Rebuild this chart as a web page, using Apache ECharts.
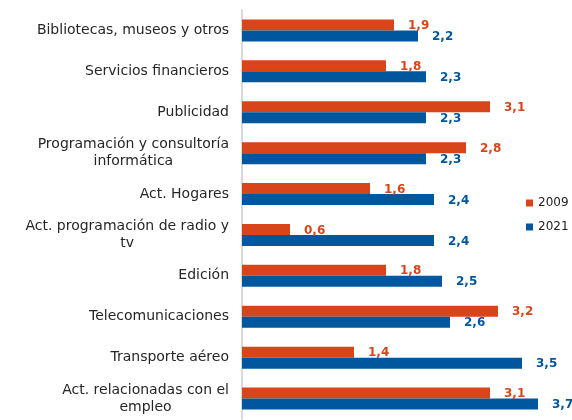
<!DOCTYPE html>
<html>
<head>
<meta charset="utf-8">
<script src="https://cdn.jsdelivr.net/npm/echarts@6/dist/echarts.min.js"></script>
<style>html,body{margin:0;padding:0;background:#fff}#c{width:572px;height:420px}</style>
</head>
<body>
<div id="c"></div>
<script>
const categories = [
  "Bibliotecas, museos y otros",
  "Servicios financieros",
  "Publicidad",
  "Programación y consultoría\ninformática",
  "Act. Hogares",
  "Act. programación de radio y\ntv",
  "Edición",
  "Telecomunicaciones",
  "Transporte aéreo",
  "Act. relacionadas con el\nempleo"
];
const seriesNames = ["2009", "2021"];
const values2009 = [1.9, 1.8, 3.1, 2.8, 1.6, 0.6, 1.8, 3.2, 1.4, 3.1];
const values2021 = [2.2, 2.3, 2.3, 2.3, 2.4, 2.4, 2.5, 2.6, 3.5, 3.7];

const ORANGE = '#D8451A';
const BLUE = '#01579E';
const FONT = 'DejaVu Sans';

const chart = echarts.init(document.getElementById('c'), null, {renderer: 'canvas'});
function lbl(color) {
  return {
    show: true, position: 'right', distance: 14, offset: [0, 1],
    color: color, fontFamily: FONT, fontWeight: 'bold', fontSize: 12,
    formatter: p => String(p.value).replace('.', ',')
  };
}
chart.setOption({
  animation: false,
  backgroundColor: '#fff',
  grid: {left: 242, right: 10, top: 10, bottom: 1, containLabel: false},
  legend: {
    orient: 'vertical', left: 521, top: 192,
    itemWidth: 7, itemHeight: 7, itemGap: 12,
    icon: 'rect',
    textStyle: {fontFamily: FONT, fontSize: 12, color: '#222'},
    data: seriesNames
  },
  xAxis: {
    type: 'value', min: 0, max: 4, show: false
  },
  yAxis: {
    type: 'category', inverse: true, data: categories,
    axisLine: {show: true, lineStyle: {color: '#d9d9d9', width: 2}},
    axisTick: {show: false},
    splitLine: {show: false},
    axisLabel: {
      margin: 13, fontFamily: FONT, fontSize: 14, color: '#262626',
      formatter: v => v.split('\n').map(s => '{c|' + s + '}').join('\n'),
      rich: {c: {align: 'center', fontFamily: FONT, fontSize: 14, color: '#262626', lineHeight: 17}}
    }
  },
  series: [
    {name: seriesNames[0], type: 'bar', data: values2009, barWidth: 11, barGap: '0%',
     itemStyle: {color: ORANGE}, label: lbl(ORANGE)},
    {name: seriesNames[1], type: 'bar', data: values2021, barWidth: 11, barGap: '0%',
     itemStyle: {color: BLUE}, label: lbl(BLUE)}
  ]
});
</script>
</body>
</html>
